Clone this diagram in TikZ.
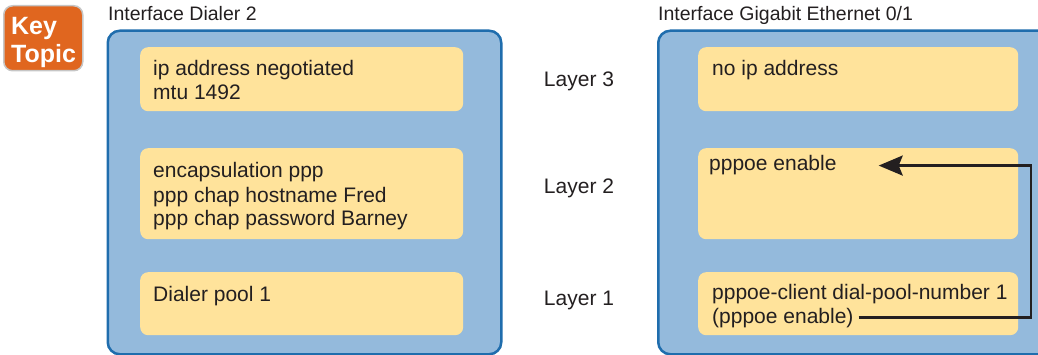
\documentclass[tikz,border=0pt]{standalone}
\usepackage{fontspec}
\setmainfont{Liberation Sans}
\usetikzlibrary{positioning,arrows.meta}

\definecolor{panelblue}{HTML}{94BADC}
\definecolor{paneledge}{HTML}{1F6DAD}
\definecolor{boxyellow}{HTML}{FFE39B}
\definecolor{keyorange}{HTML}{E0661F}
\definecolor{inkgray}{HTML}{231F20}

\begin{document}
\begin{tikzpicture}[
  x=1pt,y=-1pt,
  panel/.style={draw=paneledge,line width=2.5pt,fill=panelblue,rounded corners=12pt,
                anchor=north west,inner sep=0pt,minimum height=323.5pt},
  cfgbox/.style={fill=boxyellow,rounded corners=8pt,anchor=north west,inner sep=0pt},
  cfgtext/.style={anchor=base west,align=left,inner sep=0pt,text=inkgray,
                  font=\fontsize{21}{24}\selectfont},
  paneltitle/.style={anchor=base west,inner sep=0pt,text=inkgray,
                     font=\fontsize{19.5}{23}\selectfont},
  layerlabel/.style={anchor=base,inner sep=0pt,text=inkgray,
                     font=\fontsize{21}{24}\selectfont},
  keybadge/.style={fill=keyorange,draw=gray!45,line width=1.5pt,rounded corners=9pt,
                   anchor=north west,inner sep=0pt,minimum width=79pt,minimum height=65pt},
  keytext/.style={anchor=base west,align=left,inner sep=0pt,text=white,
                  font=\fontsize{25}{28}\selectfont\bfseries},
  arr/.style={-{Stealth[length=24pt,width=20pt,inset=4pt]},line width=2.7pt,draw=inkgray},
]
\useasboundingbox (0,0) rectangle (1038,355);
\clip (0,0) rectangle (1038,355);

% ---- Key Topic badge --------------------------------------------------------
\node[keybadge] (key) at (3,5) {};
\node[keytext] (keylbl) at (11,63) {Key\\Topic};

% ---- Panels -----------------------------------------------------------------
\node[panel,minimum width=393.5pt] (LP) at (106.5,29.5) {};
\node[panel,minimum width=420pt]   (RP) at (657,29.5) {};
\node[paneltitle] (LPtitle) at (108,21) {Interface Dialer 2};
\node[paneltitle] (RPtitle) at (658,21) {Interface Gigabit Ethernet 0/1};

% ---- Config boxes: Dialer ---------------------------------------------------
\node[cfgbox,minimum width=323pt,minimum height=64pt] (L3box) at (140,47)  {};
\node[cfgbox,minimum width=323pt,minimum height=91pt] (L2box) at (140,148) {};
\node[cfgbox,minimum width=323pt,minimum height=63pt] (L1box) at (140,272) {};

% ---- Config boxes: Gigabit Ethernet -----------------------------------------
\node[cfgbox,minimum width=320pt,minimum height=64pt] (R3box) at (698,47)  {};
\node[cfgbox,minimum width=320pt,minimum height=91pt] (R2box) at (698,148) {};
\node[cfgbox,minimum width=320pt,minimum height=63pt] (R1box) at (698,272) {};

% ---- Box texts (base = last line) -------------------------------------------
\node[cfgtext] (L3txt) at (153,100) {ip address negotiated\\mtu 1492};
\node[cfgtext] (L2txt) at (153,226) {encapsulation ppp\\ppp chap hostname Fred\\ppp chap password Barney};
\node[cfgtext] (L1txt) at (153,301) {Dialer pool 1};
\node[cfgtext] (R3txt) at (712,76)  {no ip address};
\node[cfgtext] (R2txt) at (709,171) {pppoe enable};
\node[cfgtext] (R1txt) at (712,299) {pppoe-client dial-pool-number 1};
\node[cfgtext] (R1sub) at (712,323) {(pppoe enable)};

% ---- Layer labels -----------------------------------------------------------
\node[layerlabel] (lay3) at (579,87)  {Layer 3};
\node[layerlabel] (lay2) at (579,194) {Layer 2};
\node[layerlabel] (lay1) at (579,305) {Layer 1};

% ---- Loop-back arrow --------------------------------------------------------
\coordinate (loopR) at (1026,0);
\draw[arr] ([xshift=5pt]R1sub.east) -- ([xshift=5pt]R1sub.east -| loopR)
           |- ([xshift=42pt]R2txt.east);

\end{tikzpicture}
\end{document}
